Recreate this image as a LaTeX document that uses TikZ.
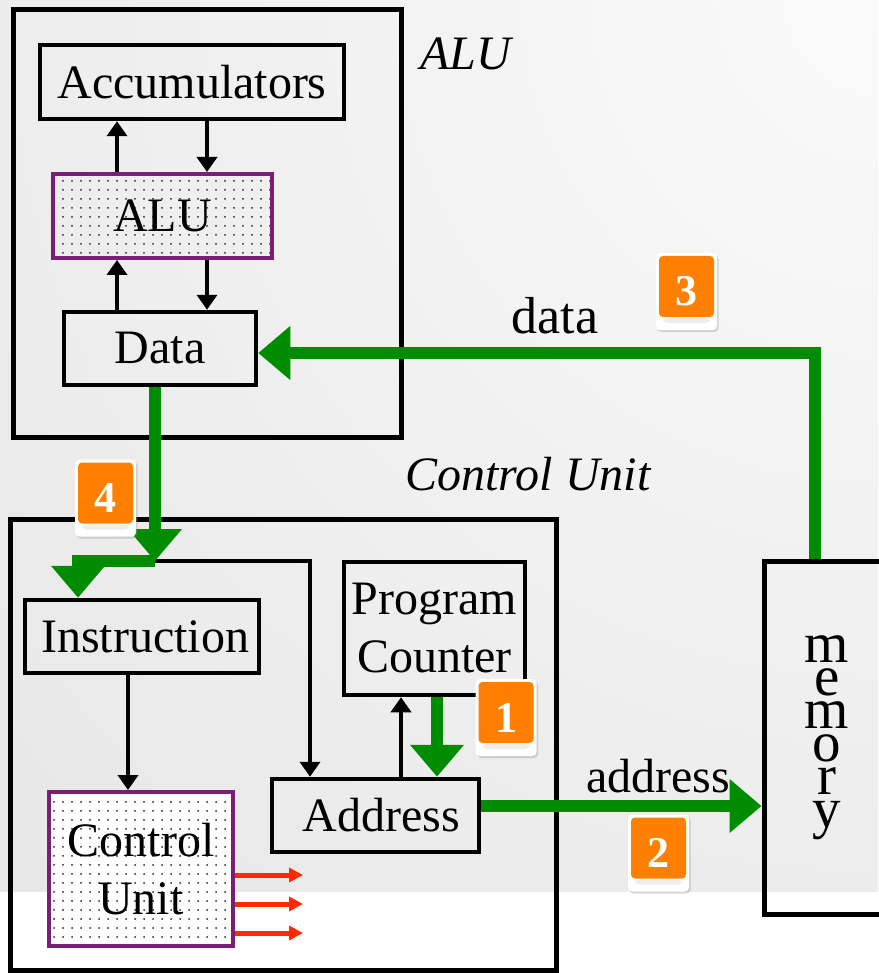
\documentclass[tikz,border=0pt]{standalone}
\usepackage{fontspec}
\setmainfont{Liberation Serif}
\usetikzlibrary{arrows.meta,patterns.meta,shadows}
\definecolor{cgreen}{HTML}{008C00}
\definecolor{corange}{HTML}{FF8000}
\definecolor{cpurple}{HTML}{7A1E78}
\definecolor{cred}{HTML}{FF2A00}
\definecolor{bgA}{HTML}{FAFAFA}
\definecolor{bgB}{HTML}{D3D3D3}
\pgfdeclareradialshading{bgshade}{\pgfpoint{0bp}{0bp}}{color(0bp)=(bgA); color(50bp)=(bgB)}
\tikzset{
  txt/.style={font=\fontsize{48}{58}\selectfont, align=center},
  blkbox/.style={txt, draw=black, line width=4.5pt, inner sep=0pt},
  outerbox/.style={draw=black, line width=5pt, inner sep=0pt},
  purpbox/.style={txt, draw=cpurple, line width=4pt, inner sep=0pt,
     pattern={Dots[distance=9pt,radius=1pt]}, pattern color=black!85},
  blkarr/.style={draw=black, line width=4.5pt, -{Triangle[width=20pt,length=15pt]}},
  grnarr/.style={draw=cgreen, line width=12pt, -{Triangle[width=52pt,length=32pt]}},
  redarr/.style={draw=cred, line width=5pt, -{Triangle[width=14pt,length=14pt]}},
  lbl/.style={inner sep=0pt, anchor=base},
  badge/.style={fill=white, rounded corners=4pt, minimum width=61pt, minimum height=77pt,
     inner sep=0pt, text=white, font=\fontsize{44}{48}\selectfont\bfseries,
     drop shadow={shadow xshift=1.5pt, shadow yshift=-2pt, opacity=0.3},
     path picture={
       \fill[corange] ([xshift=3pt,yshift=-3pt]path picture bounding box.north west)
          rectangle ([xshift=-3pt,yshift=13pt]path picture bounding box.south east);
       \fill[black!7] ([xshift=7pt,yshift=12pt]path picture bounding box.south west)
          rectangle ([xshift=-7pt,yshift=7pt]path picture bounding box.south east);
     }},
}
\begin{document}
\begin{tikzpicture}[x=1pt,y=-1pt]
\useasboundingbox (0,0) rectangle (878,973);
% background
\begin{scope}
  \clip (0,0) rectangle (878,892);
  \shade[shading=bgshade] (878,0) circle (1260pt);
\end{scope}
\fill[white] (0,892) rectangle (878,973);

% ALU part
\node[outerbox, minimum width=388pt, minimum height=427pt] (aluouter) at (207.5,223.5) {};
\node[blkbox, minimum width=304pt, minimum height=74pt] (acc) at (192,82) {Accumulators};
\node[purpbox, minimum width=219pt, minimum height=84pt] (alu) at (162.5,216) {ALU};
\node[blkbox, minimum width=192pt, minimum height=73pt] (dat) at (160,348.5) {Data};
\node[txt, lbl, font=\fontsize{48}{58}\selectfont\itshape] (alulbl) at (466,70) {ALU};

\draw[blkarr] (117,0 |- alu.north) -- (117,0 |- acc.south);
\draw[blkarr] (207,0 |- acc.south) -- (207,0 |- alu.north);
\draw[blkarr] (117,0 |- dat.north) -- (117,0 |- alu.south);
\draw[blkarr] (207,0 |- alu.south) -- (207,0 |- dat.north);

% Control unit part
\node[txt, lbl, font=\fontsize{48}{58}\selectfont\itshape] (culbl) at (528,490) {Control Unit};
\node[outerbox, minimum width=546pt, minimum height=451pt] (cuouter) at (283,744.5) {};
\node[blkbox, minimum width=234pt, minimum height=73pt] (ins) at (142,636.5) {\hspace*{6pt}Instruction};
\node[blkbox, minimum width=181pt, minimum height=133pt] (pc) at (434.5,628.5) {Program\\Counter};
\node[blkbox, minimum width=207pt, minimum height=73pt] (adr) at (375.5,815.5) {\hspace*{12pt}Address};
\node[purpbox, preaction={fill=white}, minimum width=184pt, minimum height=154pt] (cu) at (141,869) {Control\\Unit};

% memory
\node[outerbox, txt, minimum width=126pt, minimum height=353pt, text width=60pt,
      font=\fontsize{57}{33}\selectfont] (mem) at (827,737.5) {m\\e\\m\\o\\r\\y};

% labels
\node[txt, lbl, font=\fontsize{52}{58}\selectfont] (datalbl) at (555,333) {data};
\node[txt, lbl] (adrlbl) at (658,792) {address};

% black connectors
\coordinate (j) at (155,561);
\draw[blkarr] (j) -| (310,0 |- adr.north);
\draw[blkarr] (128,0 |- ins.south) -- (128,0 |- cu.north);
\draw[blkarr] (401,0 |- adr.north) -- (401,0 |- pc.south);

% green connectors
\draw[grnarr] (155,0 |- dat.south) -- (j);
\draw[grnarr] (j) -- (78,0 |- j) -- (78,0 |- ins.north);
\draw[grnarr] (437,0 |- pc.south) -- (437,0 |- adr.north);
\draw[grnarr] (adr.east |- 0,806) -- (mem.west |- 0,806);
\draw[grnarr] (815,0 |- mem.north) |- (dat.east |- 0,353);

% red control outputs
\draw[redarr] (cu.east |- 0,875) -- ++(68,0);
\draw[redarr] (cu.east |- 0,904) -- ++(68,0);
\draw[redarr] (cu.east |- 0,933) -- ++(68,0);

% badges
\node[badge] (b4) at (105.5,498) {4};
\node[badge] (b1) at (506,717.5) {1};
\node[badge] (b3) at (686.5,291.5) {3};
\node[badge] (b2) at (658.5,853) {2};
\end{tikzpicture}
\end{document}
